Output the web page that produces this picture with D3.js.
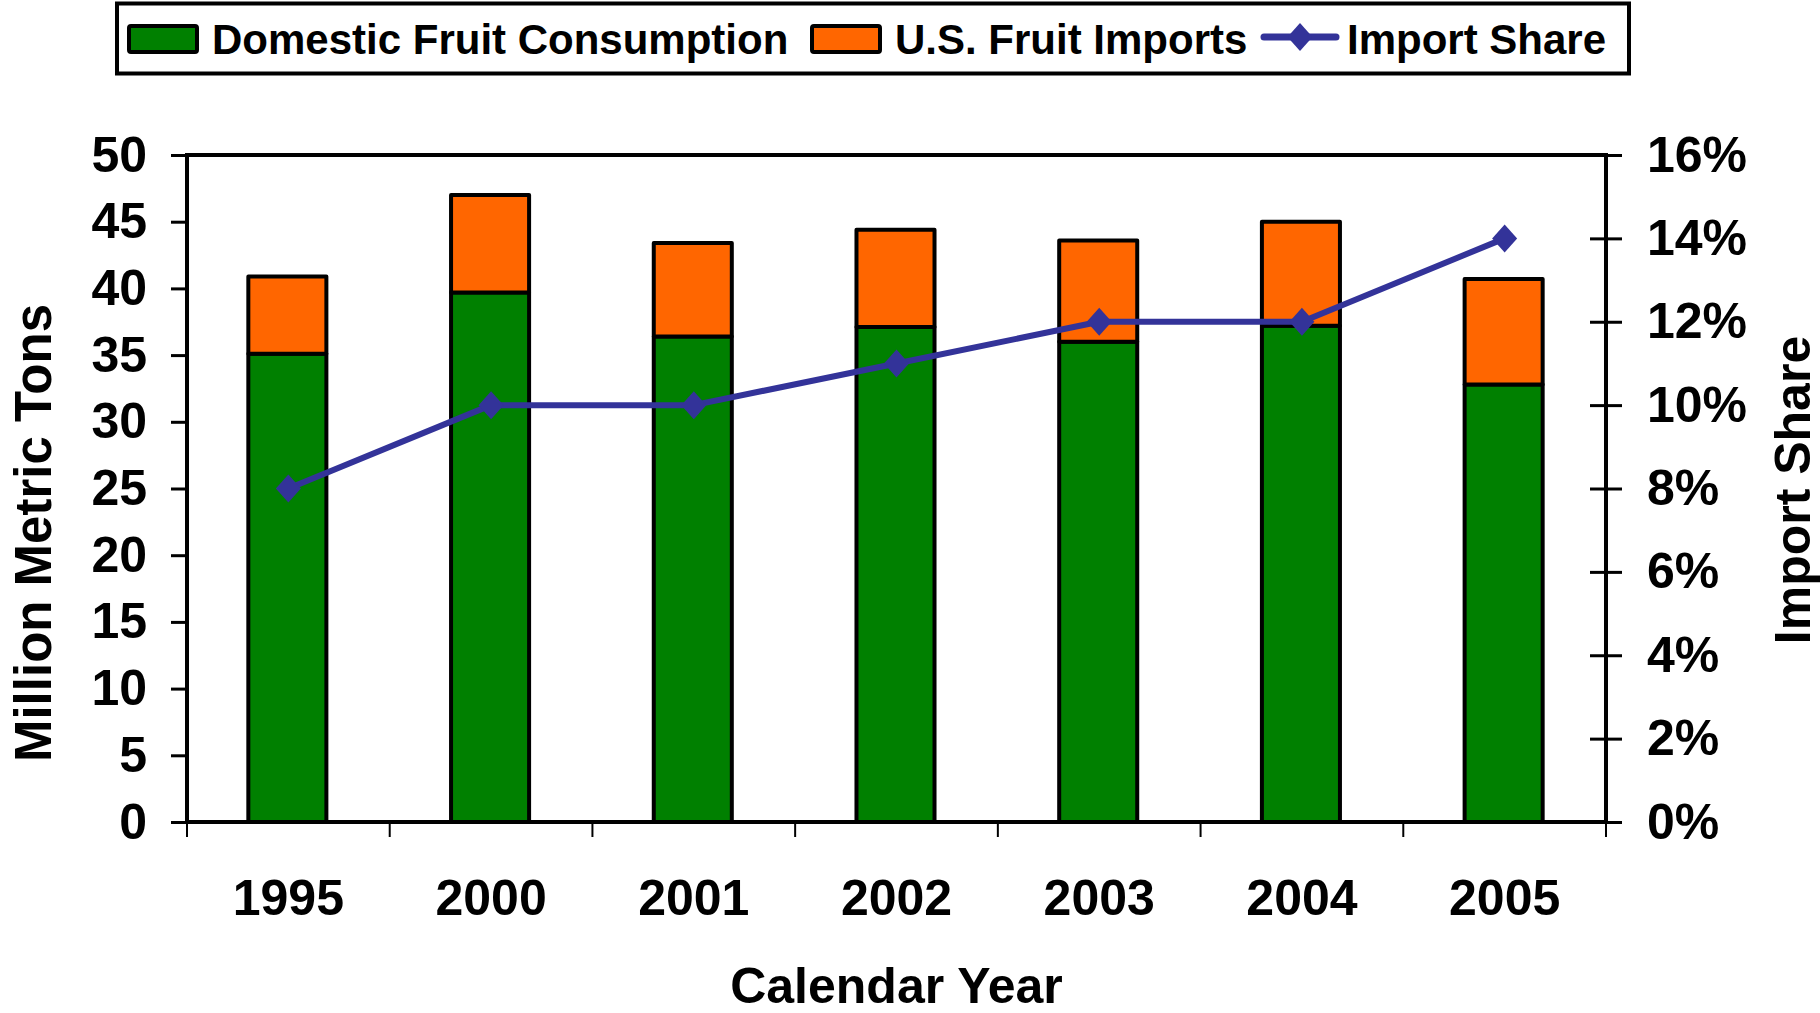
<!DOCTYPE html>
<html>
<head>
<meta charset="utf-8">
<script src="https://cdn.jsdelivr.net/npm/d3@7"></script>
<style>
  body { margin: 0; background: #fff; }
  svg text { font-family: "Liberation Sans", Arial, sans-serif; font-weight: bold; fill: #000; }
</style>
</head>
<body>
<div id="chart"></div>
<script>
// Data
const years = ["1995", "2000", "2001", "2002", "2003", "2004", "2005"];
const domestic = [35.1, 39.7, 36.4, 37.1, 36.0, 37.2, 32.8];
const imports = [5.8, 7.3, 7.0, 7.3, 7.6, 7.8, 7.9];
const importShare = [0.08, 0.10, 0.10, 0.11, 0.12, 0.12, 0.14];
const leftTicks = [0, 5, 10, 15, 20, 25, 30, 35, 40, 45, 50];
const rightTicks = [0, 0.02, 0.04, 0.06, 0.08, 0.10, 0.12, 0.14, 0.16];

const W = 1820, H = 1013;
const plot = { left: 187, right: 1606, top: 155, bottom: 822 };

const svg = d3.select("#chart").append("svg")
    .attr("width", W)
    .attr("height", H);

const x = d3.scaleBand()
    .domain(years)
    .range([plot.left, plot.right])
    .padding(0);

const y = d3.scaleLinear().domain([0, 50]).range([plot.bottom, plot.top]);
const y2 = d3.scaleLinear().domain([0, 0.16]).range([plot.bottom, plot.top]);

const rows = years.map((yr, i) => ({ year: yr, domestic: domestic[i], imports: imports[i] }));
const stack = d3.stack().keys(["domestic", "imports"])(rows);
const colors = { domestic: "#008000", imports: "#FF6600" };

// Plot frame
svg.append("rect")
    .attr("x", plot.left).attr("y", plot.top)
    .attr("width", plot.right - plot.left)
    .attr("height", plot.bottom - plot.top)
    .attr("fill", "none")
    .attr("stroke", "#000")
    .attr("stroke-width", 4);

// Bars
const barW = x.bandwidth() * 0.385;
svg.append("g")
    .selectAll("g")
    .data(stack)
    .join("g")
    .attr("fill", d => colors[d.key])
    .selectAll("rect")
    .data(d => d)
    .join("rect")
    .attr("x", d => x(d.data.year) + x.bandwidth() / 2 - barW / 2 - 1)
    .attr("y", d => y(d[1]))
    .attr("width", barW)
    .attr("height", d => y(d[0]) - y(d[1]))
    .attr("stroke", "#000")
    .attr("stroke-width", 4)
    .attr("stroke-linejoin", "round");

// Left axis
const gl = svg.append("g")
    .attr("transform", `translate(${plot.left},0)`)
    .call(d3.axisLeft(y).tickValues(leftTicks).tickSize(16).tickPadding(24));
gl.select(".domain").remove();
gl.selectAll("line").attr("stroke", "#000").attr("stroke-width", 3);
gl.selectAll("text").style("font-size", "50px");

// Right axis, ticks cross the line
const gr = svg.append("g")
    .attr("transform", `translate(${plot.right},0)`)
    .call(d3.axisRight(y2).tickValues(rightTicks).tickSize(16).tickPadding(25)
        .tickFormat(d3.format(".0%")));
gr.select(".domain").remove();
gr.selectAll("line").attr("x1", -16).attr("stroke", "#000").attr("stroke-width", 3);
gr.selectAll("text").style("font-size", "50px");

// Bottom axis: labels at band centres, ticks at band edges
const gb = svg.append("g")
    .attr("transform", `translate(0,${plot.bottom})`)
    .call(d3.axisBottom(x).tickSize(0).tickPadding(57));
gb.select(".domain").remove();
gb.selectAll("text").style("font-size", "50px");

svg.append("g")
    .selectAll("line")
    .data(years.map(d => x(d)).concat([x(years[years.length - 1]) + x.bandwidth()]))
    .join("line")
    .attr("x1", d => d).attr("x2", d => d)
    .attr("y1", plot.bottom).attr("y2", plot.bottom + 15)
    .attr("stroke", "#000")
    .attr("stroke-width", 2);

// Import share line
const line = d3.line()
    .x((d, i) => x(years[i]) + x.bandwidth() / 2)
    .y(d => y2(d));

svg.append("path")
    .datum(importShare)
    .attr("d", line)
    .attr("fill", "none")
    .attr("stroke", "#333399")
    .attr("stroke-width", 6)
    .attr("stroke-linejoin", "round");

const diamond = "M0,-14L12.5,0L0,14L-12.5,0Z";
svg.append("g")
    .selectAll("path")
    .data(importShare)
    .join("path")
    .attr("d", diamond)
    .attr("transform", (d, i) => `translate(${x(years[i]) + x.bandwidth() / 2},${y2(d)})`)
    .attr("fill", "#333399");

// Axis titles
svg.append("text")
    .attr("transform", "translate(51,533) rotate(-90)")
    .attr("text-anchor", "middle")
    .style("font-size", "51px")
    .text("Million Metric Tons");

svg.append("text")
    .attr("transform", "translate(1810,490) rotate(-90)")
    .attr("text-anchor", "middle")
    .style("font-size", "50px")
    .text("Import Share");

svg.append("text")
    .attr("x", (plot.left + plot.right) / 2)
    .attr("y", 1003)
    .attr("text-anchor", "middle")
    .style("font-size", "50px")
    .text("Calendar Year");

// Legend
const legend = svg.append("g");
legend.append("rect")
    .attr("x", 117).attr("y", 3.5)
    .attr("width", 1512).attr("height", 70)
    .attr("fill", "#fff")
    .attr("stroke", "#000")
    .attr("stroke-width", 4);

const legendItems = [
    { label: "Domestic Fruit Consumption", type: "rect", color: colors.domestic, x: 127 },
    { label: "U.S. Fruit Imports", type: "rect", color: colors.imports, x: 810 },
    { label: "Import Share", type: "line", color: "#333399", x: 1262 }
];

legendItems.forEach(item => {
    if (item.type === "rect") {
        legend.append("rect")
            .attr("x", item.x + 2).attr("y", 26)
            .attr("width", 68).attr("height", 26)
            .attr("rx", 2)
            .attr("fill", item.color)
            .attr("stroke", "#000")
            .attr("stroke-width", 4);
    } else {
        legend.append("line")
            .attr("x1", item.x + 2).attr("x2", item.x + 74)
            .attr("y1", 37).attr("y2", 37)
            .attr("stroke", item.color)
            .attr("stroke-width", 7)
            .attr("stroke-linecap", "round");
        legend.append("path")
            .attr("d", diamond)
            .attr("transform", `translate(${item.x + 38},37)`)
            .attr("fill", item.color);
    }
    legend.append("text")
        .attr("x", item.x + 85)
        .attr("y", 54)
        .style("font-size", "42px")
        .text(item.label);
});
</script>
</body>
</html>
